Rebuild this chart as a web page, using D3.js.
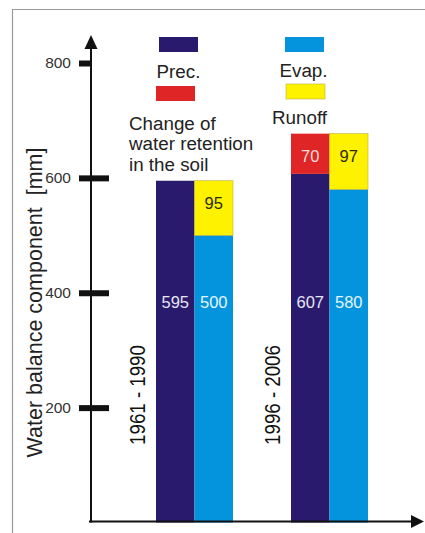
<!DOCTYPE html>
<html><head><meta charset="utf-8">
<script src="https://cdn.jsdelivr.net/npm/d3@7"></script>
<style>
html,body{margin:0;padding:0;background:#fff;}
svg{display:block;font-family:"Liberation Sans",Arial,sans-serif;}
</style></head>
<body>
<svg id="chart" width="425" height="533"></svg>
<script>
const periods = ["1961 - 1990", "1996 - 2006"];
const prec = [595, 607];
const retention = [0, 70];
const evap = [500, 580];
const runoff = [95, 97];
const yTicks = [200, 400, 600, 800];
const legendItems = [
  {key: "prec", label: "Prec."},
  {key: "evap", label: "Evap."},
  {key: "retention", label: ["Change of", "water retention", "in the soil"]},
  {key: "runoff", label: "Runoff"}
];
const colors = {prec: "#2a1a6e", evap: "#0494de", retention: "#df2525", runoff: "#fff200"};
const textColors = {prec: "#e6e6f2", evap: "#e6f6ff", retention: "#f4dede", runoff: "#2a2a10"};

const svg = d3.select("#chart");

// frame
svg.append("path").attr("d", "M12.5,533 V9.5 H425").attr("fill", "none").attr("stroke", "#9a9a9a").attr("stroke-width", 1.2);

const y = d3.scaleLinear().domain([0, 800]).range([522.5, 63]);
const x0 = d3.scaleBand().domain(periods).range([156, 368]).paddingInner(58/135).paddingOuter(0);
const x1 = d3.scaleBand().domain(["left", "right"]).range([0, x0.bandwidth()]);

// stacked data
const stacks = [];
periods.forEach((p, i) => {
  stacks.push({p, col: "left", key: "prec", y0: 0, y1: prec[i], v: prec[i]});
  if (retention[i] > 0) stacks.push({p, col: "left", key: "retention", y0: prec[i], y1: prec[i] + retention[i], v: retention[i]});
  stacks.push({p, col: "right", key: "evap", y0: 0, y1: evap[i], v: evap[i]});
  stacks.push({p, col: "right", key: "runoff", y0: evap[i], y1: evap[i] + runoff[i], v: runoff[i]});
});

const g = svg.append("g");
g.selectAll("rect.seg").data(stacks).join("rect")
  .attr("class", "seg")
  .attr("x", d => x0(d.p) + x1(d.col))
  .attr("width", x1.bandwidth())
  .attr("y", d => y(d.y1))
  .attr("height", d => y(d.y0) - y(d.y1))
  .attr("fill", d => colors[d.key])
  .attr("stroke", d => d.key === "runoff" ? "#b8b040" : "none")
  .attr("stroke-width", 0.6);

// value labels
g.selectAll("text.val").data(stacks).join("text")
  .attr("class", "val")
  .attr("x", d => x0(d.p) + x1(d.col) + x1.bandwidth() / 2)
  .attr("y", d => (d.key === "prec" || d.key === "evap") ? y(d.y0) - 215 : y(d.y1) + 28)
  .attr("text-anchor", "middle")
  .attr("font-size", 16.5)
  .attr("fill", d => textColors[d.key])
  .text(d => d.v);

// period labels
g.selectAll("text.period").data(periods).join("text")
  .attr("class", "period")
  .attr("transform", d => `translate(${x0(d) - 11},395) rotate(-90) scale(0.85,1)`)
  .attr("text-anchor", "middle")
  .attr("font-size", 22)
  .attr("fill", "#111")
  .text(d => d);

// axes
const axisX = 91;
const axisY = 521.5;
const yAxis = d3.axisLeft(y).tickValues(yTicks).tickSizeInner(0).tickSizeOuter(0).tickPadding(20);
const ya = svg.append("g").attr("transform", `translate(${axisX},0)`).call(yAxis);
ya.select(".domain").remove();
ya.selectAll(".tick text").attr("font-size", 15.5).attr("fill", "#333").attr("font-family", "Liberation Sans, Arial, sans-serif");
ya.selectAll(".tick line")
  .attr("x1", -12)
  .attr("x2", d => d === 800 ? 0 : 18)
  .attr("stroke", "#111")
  .attr("stroke-width", 6);

svg.append("line").attr("x1", axisX).attr("x2", axisX).attr("y1", axisY + 1).attr("y2", 46).attr("stroke", "#111").attr("stroke-width", 2);
svg.append("path").attr("d", `M${axisX},35 L${axisX + 6.5},49 L${axisX - 6.5},49 Z`).attr("fill", "#111");
svg.append("line").attr("x1", 89).attr("x2", 414).attr("y1", axisY).attr("y2", axisY).attr("stroke", "#111").attr("stroke-width", 2);
svg.append("path").attr("d", `M424,${axisY} L411,${axisY - 6.5} L411,${axisY + 6.5} Z`).attr("fill", "#111");

// y title
svg.append("text")
  .attr("transform", "translate(41.5,302.5) rotate(-90)")
  .attr("text-anchor", "middle")
  .attr("font-size", 21.5)
  .attr("fill", "#222")
  .style("white-space", "pre")
  .attr("xml:space", "preserve")
  .text("Water balance component  [mm]");

// legend
const legendPos = {
  prec: {sx: 159, sy: 37, tx: 178.5, ty: 78, anchor: "middle"},
  evap: {sx: 285, sy: 37, tx: 303.5, ty: 77, anchor: "middle"},
  retention: {sx: 156, sy: 86, tx: 129, ty: 130, anchor: "start"},
  runoff: {sx: 286, sy: 84, tx: 272, ty: 124, anchor: "start"}
};
const lg = svg.append("g");
legendItems.forEach(it => {
  const p = legendPos[it.key];
  lg.append("rect").attr("x", p.sx).attr("y", p.sy).attr("width", 39).attr("height", 15)
    .attr("fill", colors[it.key])
    .attr("stroke", it.key === "runoff" ? "#b8b040" : "none").attr("stroke-width", 0.6);
  const t = lg.append("text").attr("x", p.tx).attr("y", p.ty).attr("text-anchor", p.anchor)
    .attr("font-size", 18.8).attr("fill", "#222");
  const lines = Array.isArray(it.label) ? it.label : [it.label];
  lines.forEach((l, i) => t.append("tspan").attr("x", p.tx).attr("dy", i === 0 ? 0 : 20.3).text(l));
});
</script>
</body></html>
